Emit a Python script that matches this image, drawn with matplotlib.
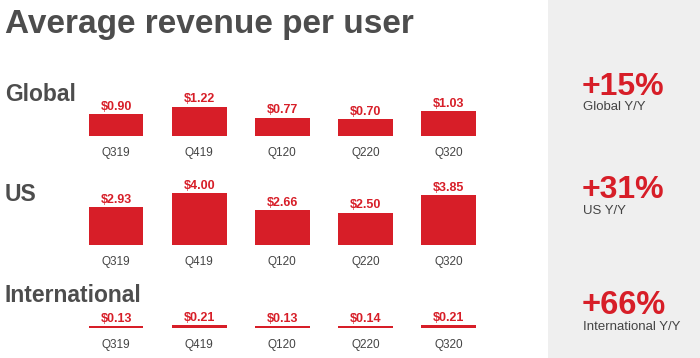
import matplotlib.pyplot as plt
import matplotlib.patches as mpatches

# data
quarters = ['Q319', 'Q419', 'Q120', 'Q220', 'Q320']
global_arpu = [0.90, 1.22, 0.77, 0.70, 1.03]
us_arpu = [2.93, 4.00, 2.66, 2.50, 3.85]
intl_arpu = [0.13, 0.21, 0.13, 0.14, 0.21]
section_names = ['Global', 'US', 'International']
yoy_values = ['+15%', '+31%', '+66%']
yoy_labels = ['Global Y/Y', 'US Y/Y', 'International Y/Y']

RED = '#d71e28'
DARK = '#4d4d4d'
W, H = 700, 358

plt.rcParams['font.family'] = ['Liberation Sans', 'DejaVu Sans']
fig = plt.figure(figsize=(7, 3.58), dpi=100)

# grey panel on the right
fig.patches.append(mpatches.Rectangle((548 / W, 0), 1 - 548 / W, 1, transform=fig.transFigure,
                                      facecolor='#efefef', edgecolor='none', zorder=0))

fig.text(5 / W, 1 - 33 / H, 'Average revenue per user', fontsize=24, fontweight='bold',
         color=DARK, va='baseline', ha='left')

# (values, baseline y in px, px per dollar, ylim top)
sections = [(global_arpu, 136, 24, 1.5), (us_arpu, 245, 13, 4.3), (intl_arpu, 328, 13, 0.5)]
name_baselines = [101, 201, 302]
yoy_baselines = [95, 198, 314]
yoy_sizes = [23, 23, 23.5]
label_baselines = [110, 213.5, 329.5]

for i, (vals, base, ppd, top) in enumerate(sections):
    h = ppd * top
    ax = fig.add_axes([74.5 / W, 1 - base / H, 415.5 / W, h / H])
    ax.bar(range(len(quarters)), vals, width=0.66, color=RED)
    ax.set_xlim(-0.5, 4.5)
    ax.set_ylim(0, top)
    for x, v in enumerate(vals):
        ax.annotate('$%.2f' % v, (x, v), xytext=(0, 1), textcoords='offset points',
                    ha='center', va='bottom', fontsize=9, fontweight='bold', color=RED,
                    annotation_clip=False)
    ax.set_xticks(range(len(quarters)))
    ax.set_xticklabels(quarters, fontsize=8.5, color='#444444')
    ax.tick_params(axis='x', length=0, pad=8)
    ax.set_yticks([])
    for s in ax.spines.values():
        s.set_visible(False)
    ax.patch.set_alpha(0)

    fig.text(5 / W, 1 - name_baselines[i] / H, section_names[i], fontsize=16.5, fontweight='bold',
             color=DARK, va='baseline', ha='left')
    fig.text(582 / W, 1 - yoy_baselines[i] / H, yoy_values[i], fontsize=yoy_sizes[i],
             fontweight='bold', color=RED, va='baseline', ha='left')
    fig.text(583 / W, 1 - label_baselines[i] / H, yoy_labels[i], fontsize=9.5,
             color='#444444', va='baseline', ha='left')

fig.savefig('out.png', dpi=100)
